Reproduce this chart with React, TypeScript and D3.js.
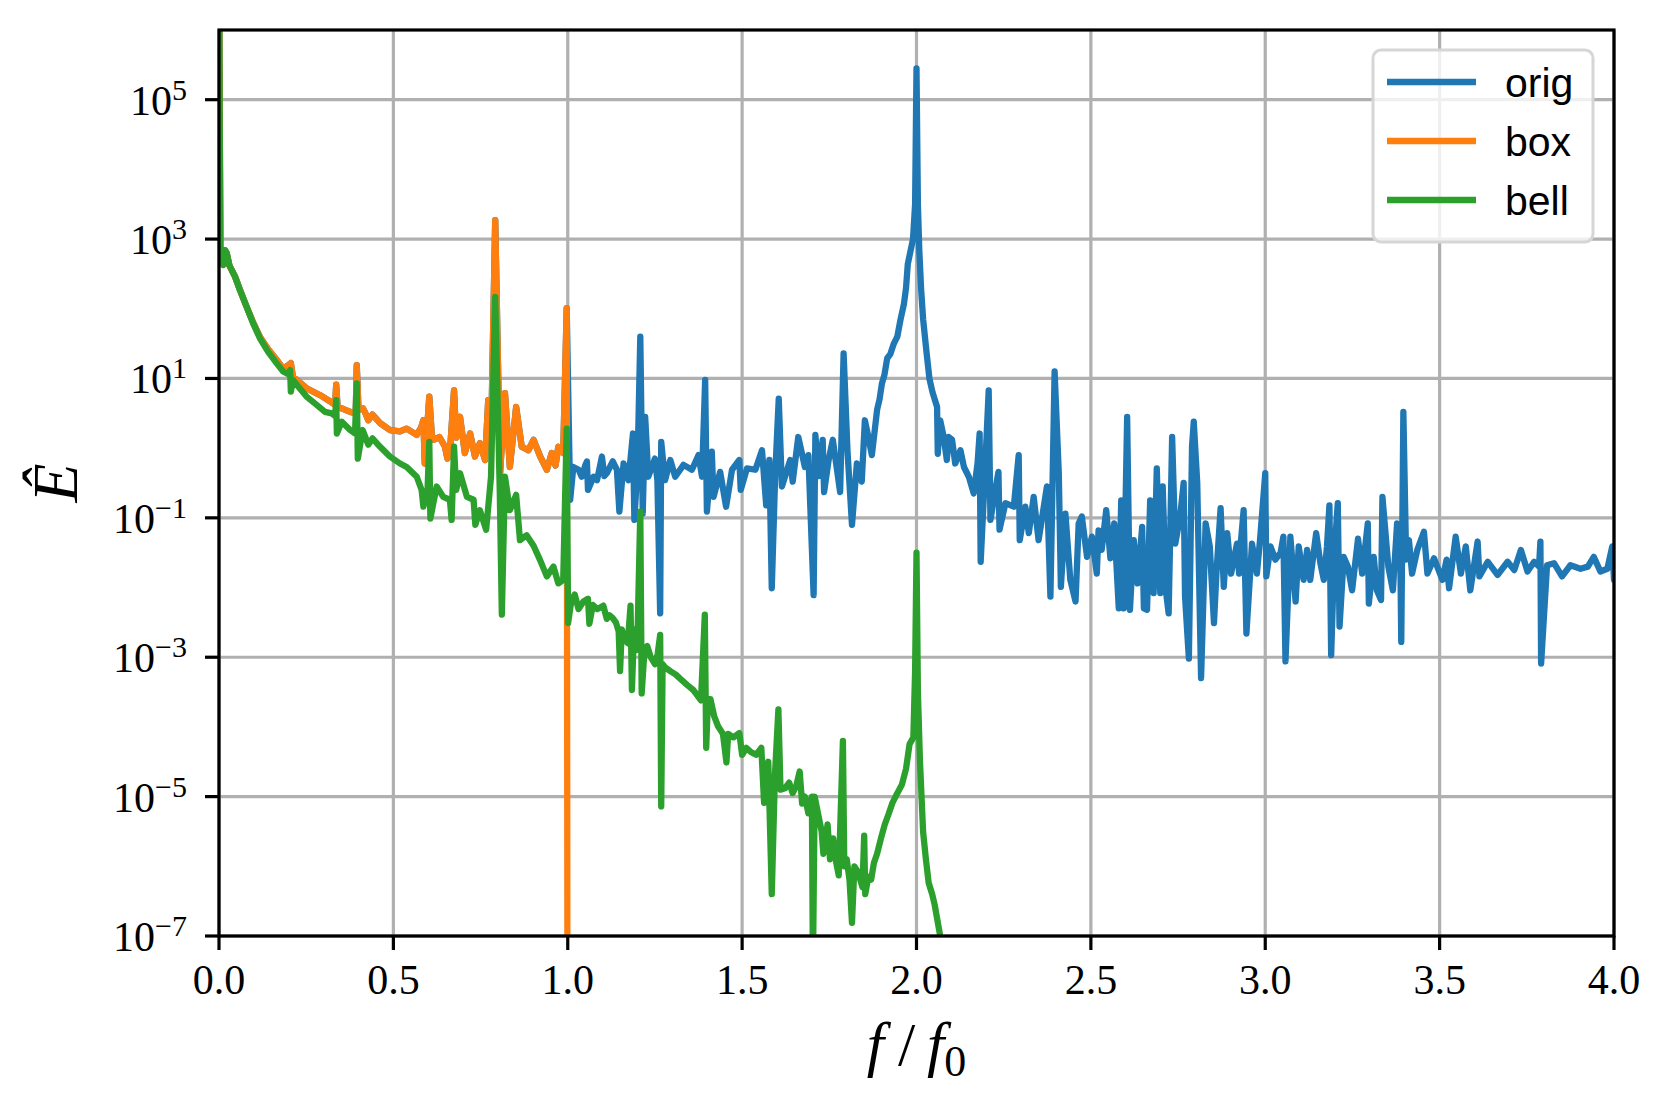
import React, { useEffect, useRef } from 'react';
import * as d3 from 'd3';

// Spectrum points: [f/f0, log10(Ê)]
const boxLog: [number, number][] = [
  [0, 7], [0.004, 2.7], [0.008, 2.66], [0.012, 2.63], [0.017, 2.84], [0.022, 2.8], [0.03, 2.62],
  [0.046, 2.46], [0.06, 2.27], [0.079, 2.03], [0.098, 1.8], [0.117, 1.6], [0.141, 1.42],
  [0.165, 1.27], [0.184, 1.14], [0.199, 1.19], [0.206, 1.22], [0.212, 1.02], [0.223, 0.98],
  [0.251, 0.86], [0.29, 0.76], [0.319, 0.67], [0.333, 0.62], [0.336, 0.91], [0.34, 0.59],
  [0.352, 0.57], [0.376, 0.52], [0.392, 0.5], [0.395, 1.19], [0.4, 0.55], [0.413, 0.57],
  [0.42, 0.5], [0.428, 0.4], [0.44, 0.48], [0.462, 0.36], [0.49, 0.26], [0.519, 0.24],
  [0.538, 0.28], [0.567, 0.19], [0.58, 0.3], [0.586, 0.4], [0.59, -0.22], [0.603, 0.74],
  [0.61, 0.2], [0.615, 0.12], [0.632, 0.16], [0.648, 0.02], [0.655, -0.15], [0.662, -0.07],
  [0.674, 0.83], [0.68, 0.15], [0.691, 0.45], [0.705, -0.07], [0.72, 0.21], [0.734, -0.12],
  [0.748, 0.07], [0.763, -0.17], [0.772, 0.69], [0.78, 0.1], [0.792, 3.27], [0.806, -0.36],
  [0.82, 0.79], [0.834, -0.27], [0.852, 0.59], [0.868, 0.02], [0.887, -0.03], [0.902, 0.12],
  [0.921, -0.12], [0.94, -0.31], [0.954, -0.07], [0.965, -0.25], [0.973, 0.02], [0.987, -0.07],
  [0.997, 2.01], [1.0, -12],
];

const bellLog: [number, number][] = [
  [0, 7], [0.004, 2.7], [0.008, 2.66], [0.012, 2.63], [0.017, 2.84], [0.022, 2.8], [0.03, 2.62],
  [0.046, 2.46], [0.06, 2.27], [0.079, 2.03], [0.098, 1.79], [0.117, 1.58], [0.141, 1.38],
  [0.165, 1.22], [0.184, 1.1], [0.199, 1.06], [0.204, 1.12], [0.206, 0.81], [0.212, 0.98],
  [0.223, 0.91], [0.251, 0.74], [0.28, 0.62], [0.304, 0.52], [0.323, 0.5], [0.333, 0.46],
  [0.336, 0.69], [0.338, 0.21], [0.352, 0.38], [0.376, 0.26], [0.39, 0.21], [0.395, 0.93],
  [0.398, -0.15], [0.412, 0.26], [0.428, 0.05], [0.44, 0.14], [0.462, 0.02], [0.49, -0.12],
  [0.519, -0.22], [0.538, -0.27], [0.567, -0.41], [0.581, -0.6], [0.586, -0.84], [0.598, -0.6],
  [0.603, 0.09], [0.606, -1.01], [0.624, -0.55], [0.643, -0.7], [0.662, -0.74], [0.667, -1.03],
  [0.674, 0.02], [0.68, -0.6], [0.691, -0.36], [0.711, -0.7], [0.73, -0.74], [0.735, -1.1],
  [0.748, -0.89], [0.766, -1.17], [0.78, -0.41], [0.792, 2.17], [0.805, -0.6], [0.811, -2.39],
  [0.82, -0.41], [0.834, -0.89], [0.852, -0.67], [0.863, -1.32], [0.882, -1.25], [0.902, -1.4],
  [0.921, -1.61], [0.94, -1.84], [0.959, -1.7], [0.973, -1.94], [0.987, -1.89], [0.997, 0.28],
  [1.001, -2.51], [1.01, -2.2], [1.02, -2.1], [1.031, -2.31], [1.045, -2.2], [1.058, -2.16],
  [1.062, -2.52], [1.072, -2.25], [1.085, -2.31], [1.102, -2.26], [1.112, -2.45], [1.12, -2.4],
  [1.129, -2.44], [1.138, -2.5], [1.146, -2.63], [1.15, -3.2], [1.155, -2.6], [1.162, -2.73],
  [1.172, -2.8], [1.18, -2.26], [1.184, -3.47], [1.19, -2.6], [1.195, -2.9], [1.2, -2.7],
  [1.208, -0.91], [1.212, -3.52], [1.22, -2.9], [1.228, -2.84], [1.238, -3.0], [1.25, -3.1],
  [1.258, -2.95], [1.265, -2.68], [1.268, -5.14], [1.272, -3.1], [1.28, -3.15], [1.294, -3.2],
  [1.31, -3.25], [1.327, -3.33], [1.343, -3.4], [1.36, -3.47], [1.372, -3.55], [1.382, -3.62],
  [1.393, -2.39], [1.397, -4.3], [1.402, -3.6], [1.409, -3.6], [1.42, -3.85], [1.431, -3.99],
  [1.445, -4.1], [1.455, -4.51], [1.46, -4.1], [1.475, -4.15], [1.492, -4.09], [1.5, -4.4],
  [1.512, -4.3], [1.525, -4.36], [1.54, -4.4], [1.555, -4.3], [1.563, -5.09], [1.575, -4.5],
  [1.585, -6.4], [1.594, -4.7], [1.604, -3.75], [1.61, -4.9], [1.623, -4.88], [1.635, -4.8],
  [1.645, -4.95], [1.655, -4.85], [1.665, -4.64], [1.672, -5.1], [1.68, -5.0], [1.69, -5.24],
  [1.7, -5.0], [1.703, -7.5], [1.708, -5.0], [1.72, -5.3], [1.728, -5.5], [1.733, -5.82],
  [1.745, -5.4], [1.752, -5.9], [1.761, -5.6], [1.77, -5.95], [1.777, -6.13], [1.789, -4.2],
  [1.793, -6.0], [1.8, -5.9], [1.808, -6.2], [1.815, -6.81], [1.822, -6.0], [1.832, -6.08],
  [1.845, -6.3], [1.85, -5.56], [1.853, -6.4], [1.862, -6.15], [1.87, -6.19], [1.878, -5.95],
  [1.887, -5.82], [1.898, -5.6], [1.909, -5.4], [1.92, -5.25], [1.931, -5.09], [1.945, -4.95],
  [1.958, -4.83], [1.97, -4.6], [1.98, -4.25], [1.991, -4.15], [1.996, -3.2], [2.0, -1.5],
  [2.004, -3.5], [2.01, -4.5], [2.019, -5.51], [2.027, -5.9], [2.035, -6.24], [2.045, -6.4],
  [2.052, -6.55], [2.068, -7.0], [2.08, -8.0],
];

// orig above f0 (below f0 it coincides with box)
const origHighLog: [number, number][] = [
  [1.007, -0.74], [1.016, -0.27], [1.031, -0.31], [1.04, -0.41], [1.05, -0.25], [1.055, -0.19],
  [1.058, -0.6], [1.074, -0.41], [1.084, -0.46], [1.098, -0.12], [1.105, -0.4], [1.112, -0.36],
  [1.129, -0.19], [1.141, -0.31], [1.148, -0.91], [1.16, -0.22], [1.174, -0.46], [1.187, 0.21],
  [1.191, -1.03], [1.2, -0.27], [1.208, 1.6], [1.215, -0.94], [1.222, 0.45], [1.231, -0.41],
  [1.25, -0.15], [1.257, -0.46], [1.265, -2.37], [1.268, 0.09], [1.279, -0.46], [1.294, -0.17],
  [1.308, -0.41], [1.332, -0.24], [1.356, -0.31], [1.375, -0.1], [1.385, -0.41], [1.394, 0.98],
  [1.399, -0.91], [1.413, -0.05], [1.418, -0.7], [1.437, -0.34], [1.454, -0.84], [1.471, -0.31],
  [1.492, -0.17], [1.496, -0.6], [1.514, -0.29], [1.538, -0.31], [1.557, -0.03], [1.569, -0.82],
  [1.578, -0.17], [1.585, -2.01], [1.595, -0.36], [1.605, 0.71], [1.614, -0.55], [1.638, -0.17],
  [1.645, -0.48], [1.661, 0.16], [1.68, -0.27], [1.69, -0.1], [1.705, -2.11], [1.71, 0.19],
  [1.72, -0.4], [1.731, 0.12], [1.735, -0.63], [1.748, -0.17], [1.76, 0.12], [1.781, -0.63],
  [1.791, 1.36], [1.802, -0.03], [1.815, -1.1], [1.829, -0.22], [1.843, -0.48], [1.852, 0.4],
  [1.862, 0.16], [1.872, -0.1], [1.887, 0.55], [1.894, 0.7], [1.901, 0.93], [1.908, 1.05],
  [1.916, 1.29], [1.925, 1.35], [1.935, 1.5], [1.945, 1.6], [1.954, 1.84], [1.964, 2.07],
  [1.97, 2.3], [1.975, 2.64], [1.99, 3.0], [1.996, 3.5], [2.0, 5.45],
  [2.004, 3.5], [2.008, 2.84], [2.013, 2.3], [2.019, 1.85], [2.028, 1.41], [2.037, 1.0],
  [2.046, 0.8], [2.059, 0.59], [2.061, -0.08], [2.068, 0.4], [2.078, 0.16], [2.087, -0.17],
  [2.092, 0.16], [2.102, 0.12], [2.111, -0.22], [2.126, -0.03], [2.136, -0.27], [2.15, -0.41],
  [2.164, -0.65], [2.175, -0.22], [2.181, 0.21], [2.184, -1.63], [2.193, -0.7], [2.207, 0.83],
  [2.212, -1.03], [2.226, -0.6], [2.235, -0.34], [2.238, -1.17], [2.255, -0.79], [2.279, -0.84],
  [2.293, -0.1], [2.296, -1.32], [2.312, -0.84], [2.322, -1.22], [2.336, -0.7], [2.35, -1.32],
  [2.365, -0.84], [2.374, -0.55], [2.384, -2.13], [2.396, 1.1], [2.408, -0.36], [2.414, -1.99],
  [2.427, -0.94], [2.441, -1.89], [2.456, -2.2], [2.465, -1.08], [2.474, -0.98], [2.489, -1.56],
  [2.503, -1.27], [2.517, -1.8], [2.522, -1.18], [2.531, -1.46], [2.544, -0.89], [2.556, -1.58],
  [2.567, -1.08], [2.58, -2.3], [2.587, -0.75], [2.594, -2.3], [2.604, 0.45], [2.612, -2.32],
  [2.623, -1.32], [2.634, -1.94], [2.647, -1.13], [2.652, -2.3], [2.661, -2.32], [2.67, -0.75],
  [2.68, -2.08], [2.689, -0.29], [2.699, -2.08], [2.706, -0.55], [2.715, -2.04], [2.723, -2.37],
  [2.733, 0.16], [2.742, -1.37], [2.756, -0.98], [2.766, -0.5], [2.77, -2.13], [2.781, -3.02],
  [2.79, 0.02], [2.795, 0.38], [2.805, -0.5], [2.816, -3.3], [2.829, -1.08], [2.841, -1.41],
  [2.853, -2.51], [2.86, -1.8], [2.872, -0.86], [2.881, -1.99], [2.891, -1.22], [2.902, -1.8],
  [2.919, -1.37], [2.925, -1.8], [2.929, -1.41], [2.938, -0.89], [2.946, -2.66], [2.962, -1.37],
  [2.976, -1.8], [2.985, -1.32], [3.0, -0.36], [3.003, -1.84], [3.015, -1.41], [3.029, -1.6],
  [3.044, -1.5], [3.052, -1.27], [3.058, -3.06], [3.072, -1.27], [3.087, -2.2], [3.096, -1.41],
  [3.11, -1.89], [3.12, -1.46], [3.129, -1.89], [3.146, -1.22], [3.158, -1.65], [3.168, -1.89],
  [3.177, -1.41], [3.184, -0.82], [3.189, -2.97], [3.198, -1.51], [3.208, -0.79], [3.213, -2.56],
  [3.225, -1.56], [3.237, -1.7], [3.249, -2.04], [3.266, -1.3], [3.278, -1.8], [3.294, -1.08],
  [3.297, -2.23], [3.311, -1.56], [3.32, -2.04], [3.332, -2.18], [3.336, -0.7], [3.353, -1.7],
  [3.366, -2.04], [3.378, -1.08], [3.387, -1.41], [3.39, -2.78], [3.396, 0.52], [3.404, -1.6],
  [3.412, -1.32], [3.421, -1.8], [3.436, -1.46], [3.455, -1.2], [3.465, -1.8], [3.484, -1.58],
  [3.508, -1.89], [3.52, -1.6], [3.527, -2.01], [3.546, -1.27], [3.561, -1.8], [3.575, -1.41],
  [3.588, -2.04], [3.609, -1.34], [3.614, -1.84], [3.638, -1.63], [3.666, -1.82], [3.695, -1.63],
  [3.714, -1.75], [3.733, -1.46], [3.752, -1.77], [3.771, -1.63], [3.785, -1.7], [3.789, -1.34],
  [3.791, -3.09], [3.808, -1.68], [3.828, -1.65], [3.851, -1.84], [3.875, -1.68], [3.904, -1.73],
  [3.925, -1.7], [3.942, -1.56], [3.961, -1.77], [3.981, -1.73], [3.995, -1.41], [4.0, -1.89],
];

const origLog: [number, number][] = boxLog.slice(0, -1).concat(origHighLog);

const xTicks = [0, 0.5, 1, 1.5, 2, 2.5, 3, 3.5, 4];
const yTickExps = [-7, -5, -3, -1, 1, 3, 5];

const seriesNames = ['orig', 'box', 'bell'];
const seriesColors = ['#1f77b4', '#ff7f0e', '#2ca02c'];

const App: React.FC = () => {
  const svgRef = useRef<SVGSVGElement>(null);
  const width = 1670;
  const height = 1112;

  useEffect(() => {
    if (!svgRef.current) return;
    const svg = d3.select(svgRef.current);
    svg.selectAll('*').remove();

    const margin = { top: 30, right: 56, bottom: 176, left: 219 };
    const x0 = margin.left;
    const x1 = width - margin.right;
    const y0 = height - margin.bottom;
    const y1 = margin.top;

    const xScale = d3.scaleLinear().domain([0, 4]).range([x0, x1]);
    const yScale = d3.scaleLog().domain([1e-7, 1e6]).range([y0, y1]);

    const serif = '"Liberation Serif", "Times New Roman", serif';
    const sans = '"Liberation Sans", Arial, sans-serif';

    svg.append('rect').attr('width', width).attr('height', height).attr('fill', '#ffffff');

    svg.append('defs').append('clipPath').attr('id', 'plot-clip')
      .append('rect')
      .attr('x', x0).attr('y', y1)
      .attr('width', x1 - x0).attr('height', y0 - y1);

    // grid
    const grid = svg.append('g').attr('stroke', '#b0b0b0').attr('stroke-width', 3.2);
    xTicks.forEach(t => {
      grid.append('line')
        .attr('x1', xScale(t)).attr('x2', xScale(t))
        .attr('y1', y1).attr('y2', y0);
    });
    yTickExps.forEach(e => {
      grid.append('line')
        .attr('x1', x0).attr('x2', x1)
        .attr('y1', yScale(10 ** e)).attr('y2', yScale(10 ** e));
    });

    // lines
    const line = d3.line<[number, number]>()
      .x(d => xScale(d[0]))
      .y(d => yScale(10 ** d[1]));

    const plot = svg.append('g').attr('clip-path', 'url(#plot-clip)');
    [origLog, boxLog, bellLog].forEach((data, i) => {
      plot.append('path')
        .datum(data)
        .attr('fill', 'none')
        .attr('stroke', seriesColors[i])
        .attr('stroke-width', 6.3)
        .attr('stroke-linejoin', 'round')
        .attr('stroke-linecap', 'round')
        .attr('d', line);
    });

    // spines
    svg.append('rect')
      .attr('x', x0).attr('y', y1)
      .attr('width', x1 - x0).attr('height', y0 - y1)
      .attr('fill', 'none')
      .attr('stroke', '#000')
      .attr('stroke-width', 3.2);

    // x ticks
    xTicks.forEach(t => {
      svg.append('line')
        .attr('x1', xScale(t)).attr('x2', xScale(t))
        .attr('y1', y0).attr('y2', y0 + 14)
        .attr('stroke', '#000').attr('stroke-width', 3.2);
      svg.append('text')
        .attr('x', xScale(t)).attr('y', y0 + 58)
        .attr('text-anchor', 'middle')
        .style('font-family', serif)
        .style('font-size', '42px')
        .text(d3.format('.1f')(t));
    });

    // y ticks
    yTickExps.forEach(e => {
      const yy = yScale(10 ** e);
      svg.append('line')
        .attr('x1', x0 - 14).attr('x2', x0)
        .attr('y1', yy).attr('y2', yy)
        .attr('stroke', '#000').attr('stroke-width', 3.2);
      const txt = svg.append('text')
        .attr('x', x0 - 32).attr('y', yy + 15)
        .attr('text-anchor', 'end')
        .style('font-family', serif)
        .style('font-size', '42px');
      txt.append('tspan').text('10');
      txt.append('tspan')
        .attr('dy', -15)
        .style('font-size', '30px')
        .text(e < 0 ? `\u2212${-e}` : `${e}`);
    });

    // axis labels
    const xl = svg.append('text')
      .attr('x', (x0 + x1) / 2).attr('y', 1065)
      .attr('text-anchor', 'middle')
      .style('font-family', serif)
      .style('font-size', '62px');
    xl.append('tspan').style('font-style', 'italic').text('f');
    xl.append('tspan').attr('dx', 14).text('/');
    xl.append('tspan').attr('dx', 12).style('font-style', 'italic').text('f');
    xl.append('tspan').attr('dy', 11).style('font-size', '44px').text('0');

    svg.append('text')
      .attr('transform', `translate(77, ${(y0 + y1) / 2}) rotate(-90)`)
      .attr('text-anchor', 'middle')
      .style('font-family', serif)
      .style('font-size', '64px')
      .style('font-style', 'italic')
      .text('\u00CA');

    // legend
    const legend = svg.append('g');
    legend.append('rect')
      .attr('x', 1373).attr('y', 50)
      .attr('width', 220).attr('height', 192)
      .attr('rx', 8)
      .attr('fill', '#ffffff').attr('fill-opacity', 0.8)
      .attr('stroke', '#d6d6d6').attr('stroke-width', 3);
    seriesNames.forEach((name, i) => {
      const ly = 82 + i * 59;
      legend.append('line')
        .attr('x1', 1387).attr('x2', 1476)
        .attr('y1', ly).attr('y2', ly)
        .attr('stroke', seriesColors[i])
        .attr('stroke-width', 6.3);
      legend.append('text')
        .attr('x', 1505).attr('y', ly + 15)
        .style('font-family', sans)
        .style('font-size', '41px')
        .text(name);
    });
  }, []);

  return (
    <svg
      ref={svgRef}
      width={width}
      height={height}
      style={{ position: 'absolute', left: 0, top: 0, display: 'block' }}
    />
  );
};

export default App;
